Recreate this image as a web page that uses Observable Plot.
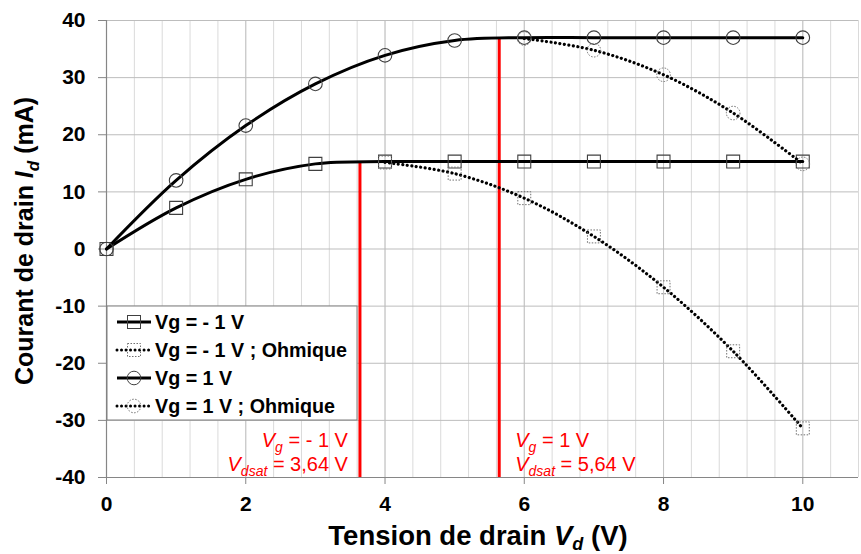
<!DOCTYPE html>
<html><head><meta charset="utf-8">
<script src="https://cdn.jsdelivr.net/npm/d3@7"></script>
<script src="https://cdn.jsdelivr.net/npm/@observablehq/plot@0.6"></script>
<style>
body{margin:0;background:#fff;}
#chart{position:relative;width:861px;height:554px;}
</style></head><body><div id="chart"></div>
<script>
// ---- data ----
const vd = [0,1,2,3,4,5,6,7,8,9,10];
const idNeg = [0,7.2,12.2,14.9,15.3,15.3,15.3,15.3,15.3,15.3,15.3];
const ohmNegX = [4,5,6,7,8,9,10];
const ohmNeg = [15.15,13.2,8.9,2.2,-6.7,-17.9,-31.4];
const idPos = [0,12,21.6,28.9,33.9,36.5,37,37,37,37,37];
const ohmPosX = [6,7,8,9,10];
const ohmPos = [36.85,34.8,30.5,23.8,14.9];
const vdsat = [3.64, 5.64];
const isat = [15.3, 37];
const annLine1 = ["V_g = - 1 V", "V_g = 1 V"];
const annLine2 = ["V_dsat = 3,64 V", "V_dsat = 5,64 V"];
const xTicks = [0,2,4,6,8,10];
const yTicks = [-40,-30,-20,-10,0,10,20,30,40];
const xMinor = d3.range(28).map(i => +(i*0.4).toFixed(1));
const legendLabels = ["Vg = - 1 V","Vg = - 1 V ; Ohmique","Vg = 1 V","Vg = 1 V ; Ohmique"];

const FONT = "'Liberation Sans', Arial, sans-serif";
const sNeg = vd.map((x,i)=>({x, y:idNeg[i]}));
const sPos = vd.map((x,i)=>({x, y:idPos[i]}));
const oNeg = ohmNegX.map((x,i)=>({x, y:ohmNeg[i]}));
const oPos = ohmPosX.map((x,i)=>({x, y:ohmPos[i]}));
const ann = vdsat.map((x,i)=>({x, top:isat[i], l1:annLine1[i], l2:annLine2[i]}));

const solidLine = {x:"x", y:"y", stroke:"#000", strokeWidth:3, curve:"catmull-rom"};
const dotLine = {x:"x", y:"y", stroke:"#000", strokeWidth:3.2, strokeDasharray:"0.01,4.5", strokeLinecap:"round", curve:"catmull-rom"};
const solidMark = {x:"x", y:"y", fill:"none", stroke:"#404040", strokeWidth:1.1};
const dotMark = {x:"x", y:"y", fill:"none", stroke:"#707070", strokeWidth:1, strokeDasharray:"1.5,1.5"};

const svg = Plot.plot({
  width:861, height:554,
  marginLeft:106, marginRight:3, marginTop:20, marginBottom:77,
  x:{domain:[0,10.8]}, y:{domain:[-40,40]},
  style:{fontFamily:FONT, background:"#fff", color:"#000"},
  marks:[
    Plot.ruleX(xMinor, {stroke:"#dadada", strokeWidth:1}),
    Plot.ruleX(xTicks, {stroke:"#c4c4c4", strokeWidth:1}),
    Plot.ruleY(yTicks, {stroke:"#bdbdbd", strokeWidth:1}),
    Plot.axisY({ticks:yTicks, tickSize:8, tickPadding:13, fontSize:21, fontWeight:"bold", stroke:"#868686", fill:"#000", label:null, tickFormat:d=>String(d)}),
    Plot.axisX({ticks:xTicks, tickSize:7, tickPadding:12, fontSize:21, fontWeight:"bold", stroke:"#868686", fill:"#000", label:null, tickFormat:d=>String(d)}),
    Plot.ruleX([0], {stroke:"#868686", strokeWidth:1.2}),
    Plot.ruleY([-40], {stroke:"#868686", strokeWidth:1.2}),
    Plot.ruleX(ann, {x:"x", y1:d=>-40, y2:"top", stroke:"#ff0000", strokeWidth:3}),
    Plot.line(sNeg, solidLine),
    Plot.dot(sNeg, {...solidMark, symbol:"square", r:7.3}),
    Plot.line(oNeg, dotLine),
    Plot.dot(oNeg, {...dotMark, symbol:"square", r:7.3}),
    Plot.line(sPos, solidLine),
    Plot.dot(sPos, {...solidMark, symbol:"circle", r:6.8}),
    Plot.line(oPos, dotLine),
    Plot.dot(oPos, {...dotMark, symbol:"circle", r:6.8}),
    Plot.text(ann.slice(0,1), {x:"x", y:d=>-40, text:"l1", dx:-12, dy:-31, textAnchor:"end", lineAnchor:"bottom", fill:"#ff0000", fontSize:20, className:"ann"}),
    Plot.text(ann.slice(0,1), {x:"x", y:d=>-40, text:"l2", dx:-12, dy:-7, textAnchor:"end", lineAnchor:"bottom", fill:"#ff0000", fontSize:20, className:"ann"}),
    Plot.text(ann.slice(1), {x:"x", y:d=>-40, text:"l1", dx:16, dy:-31, textAnchor:"start", lineAnchor:"bottom", fill:"#ff0000", fontSize:20, className:"ann"}),
    Plot.text(ann.slice(1), {x:"x", y:d=>-40, text:"l2", dx:16, dy:-7, textAnchor:"start", lineAnchor:"bottom", fill:"#ff0000", fontSize:20, className:"ann"})
  ]
});
document.getElementById("chart").appendChild(svg);

// rich text: italic V + italic subscript
function richify(el, str, subSize, shift){
  const m = str.match(/^V_(\w+)(.*)$/);
  if(!m) return;
  const t = d3.select(el); t.text("");
  t.append("tspan").attr("font-style","italic").text("V");
  t.append("tspan").attr("font-style","italic").attr("font-size",subSize).attr("dy",shift).text(m[1]);
  t.append("tspan").attr("dy",-shift).text(m[2]);
}
d3.select(svg).selectAll("g.ann text").each(function(){ richify(this, this.textContent, 14, 5); });

const root = d3.select(svg);
// axis titles
const yt = root.append("text").attr("transform","translate(33,241) rotate(-90)")
  .attr("text-anchor","middle").attr("font-family",FONT).attr("font-weight","bold").attr("font-size",25).attr("fill","#000");
yt.append("tspan").text("Courant de drain ");
yt.append("tspan").attr("font-style","italic").text("I");
yt.append("tspan").attr("font-style","italic").attr("font-size",17).attr("dy",6).text("d");
yt.append("tspan").attr("dy",-6).text(" (mA)");
const xt = root.append("text").attr("x",478).attr("y",545)
  .attr("text-anchor","middle").attr("font-family",FONT).attr("font-weight","bold").attr("font-size",27.5).attr("fill","#000");
xt.append("tspan").text("Tension de drain ");
xt.append("tspan").attr("font-style","italic").text("V");
xt.append("tspan").attr("font-style","italic").attr("font-size",18).attr("dy",5).text("d");
xt.append("tspan").attr("dy",-5).text(" (V)");

// legend
const lg = root.append("g").attr("font-family",FONT).attr("text-anchor","start");
lg.append("rect").attr("x",107).attr("y",306).attr("width",250).attr("height",114).attr("fill","#fff").attr("stroke","#7f7f7f").attr("stroke-width",1);
legendLabels.forEach((lab,i)=>{
  const cy = 322 + i*28;
  const dotted = i%2===1;
  lg.append("line").attr("x1",117).attr("x2",151).attr("y1",cy).attr("y2",cy)
    .attr("stroke","#000").attr("stroke-width",3)
    .attr("stroke-dasharray",dotted?"0.01,4.5":null).attr("stroke-linecap",dotted?"round":"butt");
  const st = dotted ? "#707070" : "#404040";
  if(i<2){
    lg.append("rect").attr("x",134-6.5).attr("y",cy-6.5).attr("width",13).attr("height",13)
      .attr("fill","none").attr("stroke",st).attr("stroke-dasharray",dotted?"1.5,1.5":null);
  } else {
    lg.append("circle").attr("cx",134).attr("cy",cy).attr("r",6.8)
      .attr("fill","none").attr("stroke",st).attr("stroke-dasharray",dotted?"1.5,1.5":null);
  }
  lg.append("text").attr("x",155).attr("y",cy).attr("dy","0.36em").attr("text-anchor","start").attr("font-weight","bold").attr("font-size",19.7).attr("fill","#000").text(lab);
});
</script>
</body></html>
